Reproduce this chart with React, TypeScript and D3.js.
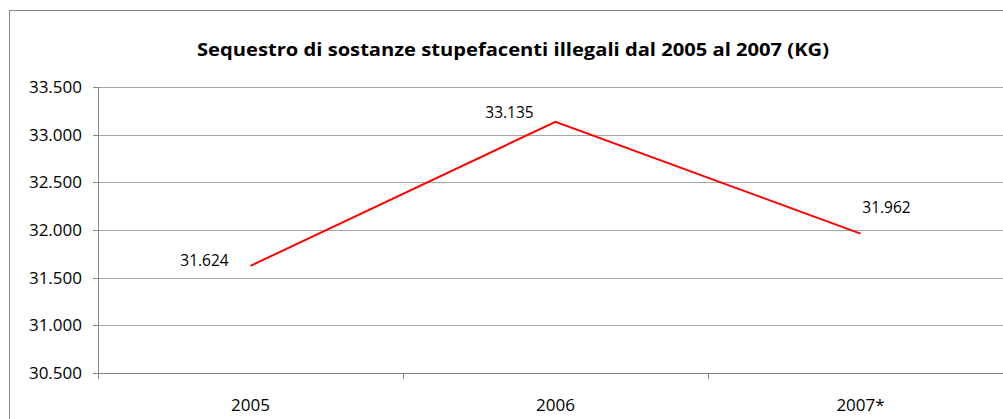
import React from "react";
import * as d3 from "d3";

const categories = ["2005", "2006", "2007*"];
const values = [31624, 33135, 31962];
const yTicks = [30500, 31000, 31500, 32000, 32500, 33000, 33500];
// where each data label sits relative to its point (Excel-style placement)
const labelOffsets = [
  [-46, 0],
  [-46, -4],
  [26, -21],
];

const title = "Sequestro di sostanze stupefacenti illegali dal 2005 al 2007 (KG)";

const W = 1003;
const H = 419;
const left = 98;
const right = 1013; // plot runs off the right edge, like the screenshot
const top = 87;
const bottom = 373;

const fmt = (v: number) => d3.format(",.0f")(v).replace(/,/g, ".");

const App = () => {
  const x = d3.scaleBand().domain(categories).range([left, right]);
  const y = d3.scaleLinear().domain([30500, 33500]).range([bottom, top]);

  const line = d3
    .line<number>()
    .x((_, i) => x(categories[i])! + x.bandwidth() / 2)
    .y((d) => y(d));

  const font = "'Open Sans', 'Liberation Sans', sans-serif";

  return (
    <svg
      width={W}
      height={H}
      style={{ position: "absolute", left: 0, top: 0, background: "#fff" }}
      fontFamily={font}
    >
      {/* chart frame */}
      <rect x={9.5} y={10.5} width={W + 20} height={H + 20} fill="#fff" stroke="#868686" />

      <text
        x={513}
        y={56}
        textAnchor="middle"
        fontSize={18}
        fontWeight="bold"
        textLength={632}
        lengthAdjust="spacingAndGlyphs"
        fill="#000"
      >
        {title}
      </text>

      {/* gridlines */}
      {yTicks.map((t) => (
        <line
          key={t}
          x1={left}
          x2={W}
          y1={Math.round(y(t)) + 0.5}
          y2={Math.round(y(t)) + 0.5}
          stroke={t === 30500 ? "#868686" : "#a6a6a6"}
        />
      ))}

      {/* y axis */}
      <line x1={left + 0.5} x2={left + 0.5} y1={top} y2={bottom + 6} stroke="#868686" />
      {yTicks.map((t) => (
        <g key={t}>
          <line
            x1={left - 5}
            x2={left}
            y1={Math.round(y(t)) + 0.5}
            y2={Math.round(y(t)) + 0.5}
            stroke="#868686"
          />
          <text
            x={82}
            y={y(t)}
            dy="0.36em"
            textAnchor="end"
            fontSize={17}
            fill="#000"
          >
            {fmt(t)}
          </text>
        </g>
      ))}

      {/* x axis ticks and labels */}
      {categories.map((c) => (
        <g key={c}>
          <line
            x1={Math.round(x(c)!) + 0.5}
            x2={Math.round(x(c)!) + 0.5}
            y1={bottom}
            y2={bottom + 6}
            stroke="#868686"
          />
          <text
            x={x(c)! + x.bandwidth() / 2}
            y={411}
            textAnchor="middle"
            fontSize={17}
            fill="#000"
          >
            {c}
          </text>
        </g>
      ))}

      <path d={line(values) ?? ""} fill="none" stroke="#ff0000" strokeWidth={2} />

      {values.map((v, i) => (
        <text
          key={i}
          x={x(categories[i])! + x.bandwidth() / 2 + labelOffsets[i][0]}
          y={y(v) + labelOffsets[i][1]}
          textAnchor="middle"
          fontSize={15.5}
          fill="#000"
        >
          {fmt(v)}
        </text>
      ))}
    </svg>
  );
};

export default App;
